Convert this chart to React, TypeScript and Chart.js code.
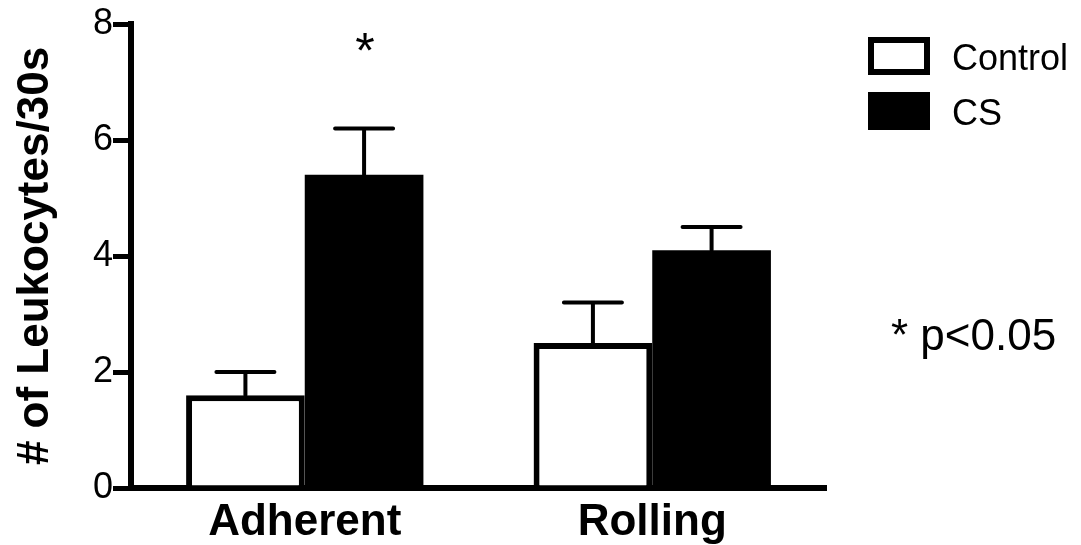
import React, { useEffect, useRef } from "react";
import { Chart, registerables } from "chart.js";

Chart.register(...registerables);

const categories = ["Adherent", "Rolling"];
const seriesNames = ["Control", "CS"];
const controlValues = [1.6, 2.5];
const controlErrors = [0.4, 0.7];
const csValues = [5.4, 4.1];
const csErrors = [0.8, 0.4];
const controlSignificant = [false, false];
const csSignificant = [true, false];
const yMin = 0;
const yMax = 8;
const yStep = 2;
const yTitle = "# of Leukocytes/30s";
const footnote = "* p<0.05";

const FONT = '"Liberation Sans", Arial, Helvetica, sans-serif';

const annotationPlugin = {
  id: "annotations",
  afterDatasetsDraw(chart: any) {
    const ctx = chart.ctx;
    const yScale = chart.scales.y;
    chart.data.datasets.forEach((ds: any, i: number) => {
      const meta = chart.getDatasetMeta(i);
      meta.data.forEach((bar: any, j: number) => {
        const v = ds.data[j];
        const e = ds.errors[j];
        const x = bar.x;
        const y0 = yScale.getPixelForValue(v);
        const y1 = yScale.getPixelForValue(v + e);
        ctx.save();
        ctx.strokeStyle = "#000";
        ctx.lineWidth = 4;
        ctx.lineCap = "round";
        ctx.beginPath();
        ctx.moveTo(x, y0);
        ctx.lineTo(x, y1);
        ctx.moveTo(x - 29, y1);
        ctx.lineTo(x + 29, y1);
        ctx.stroke();
        if (ds.significant[j]) {
          ctx.fillStyle = "#000";
          ctx.font = `50px ${FONT}`;
          ctx.textAlign = "center";
          ctx.textBaseline = "alphabetic";
          ctx.fillText("*", x + 1, chart.chartArea.top + 44);
        }
        ctx.restore();
      });
    });
  },
  afterDraw(chart: any) {
    const ctx = chart.ctx;
    ctx.save();
    const bx = 868;
    const bw = 62;
    const bh = 38;
    const rows = [37, 92];
    chart.data.datasets.forEach((ds: any, i: number) => {
      const top = rows[i];
      if (ds.backgroundColor === "#ffffff") {
        ctx.fillStyle = "#ffffff";
        ctx.fillRect(bx, top, bw, bh);
        ctx.strokeStyle = "#000";
        ctx.lineWidth = 6;
        ctx.strokeRect(bx + 3, top + 3, bw - 6, bh - 6);
      } else {
        ctx.fillStyle = "#000";
        ctx.fillRect(bx, top, bw, bh);
      }
      ctx.fillStyle = "#000";
      ctx.font = `36px ${FONT}`;
      ctx.textAlign = "left";
      ctx.textBaseline = "alphabetic";
      ctx.fillText(ds.label, 952, top + 33);
    });
    ctx.font = `44px ${FONT}`;
    ctx.fillText(footnote, 891, 350);
    ctx.restore();
  },
};

export default function App() {
  const ref = useRef<HTMLCanvasElement>(null);

  useEffect(() => {
    if (!ref.current) return;
    const chart = new Chart(ref.current, {
      type: "bar",
      data: {
        labels: categories,
        datasets: [
          {
            label: seriesNames[0],
            data: controlValues,
            errors: controlErrors,
            significant: controlSignificant,
            backgroundColor: "#ffffff",
            borderColor: "#000000",
            borderWidth: 6,
            categoryPercentage: 0.683,
            barPercentage: 1.0,
          } as any,
          {
            label: seriesNames[1],
            data: csValues,
            errors: csErrors,
            significant: csSignificant,
            backgroundColor: "#000000",
            borderColor: "#000000",
            borderWidth: 0,
            categoryPercentage: 0.683,
            barPercentage: 1.0,
          } as any,
        ],
      },
      options: {
        responsive: false,
        animation: false,
        devicePixelRatio: 1,
        layout: { padding: { left: 0, right: 255, top: 24, bottom: 0 } },
        plugins: {
          legend: { display: false },
          tooltip: { enabled: false },
        },
        scales: {
          x: {
            grid: { display: false, drawTicks: false },
            border: { display: true, width: 6, color: "#000" },
            ticks: {
              color: "#000",
              padding: 8,
              font: { family: FONT, size: 44, weight: "bold" },
            },
            afterFit: (s: any) => {
              s.height = 57;
            },
          },
          y: {
            min: yMin,
            max: yMax,
            grid: {
              drawOnChartArea: false,
              drawTicks: true,
              tickLength: 18,
              tickWidth: 5,
              tickColor: "#000",
              lineWidth: 5,
              color: "#000",
            },
            border: { display: true, width: 6, color: "#000" },
            ticks: {
              stepSize: yStep,
              color: "#000",
              padding: 0,
              font: { family: FONT, size: 36 },
            },
            title: {
              display: true,
              text: yTitle,
              color: "#000",
              font: { family: FONT, size: 44, weight: "bold" },
              padding: { top: 9, bottom: 0 },
            },
            afterFit: (s: any) => {
              s.width = 131;
            },
          },
        },
      },
      plugins: [annotationPlugin],
    });
    return () => chart.destroy();
  }, []);

  return (
    <div style={{ position: "absolute", left: 0, top: 0, width: 1081, height: 545, background: "#fff" }}>
      <canvas ref={ref} width={1081} height={545} style={{ display: "block" }} />
    </div>
  );
}
